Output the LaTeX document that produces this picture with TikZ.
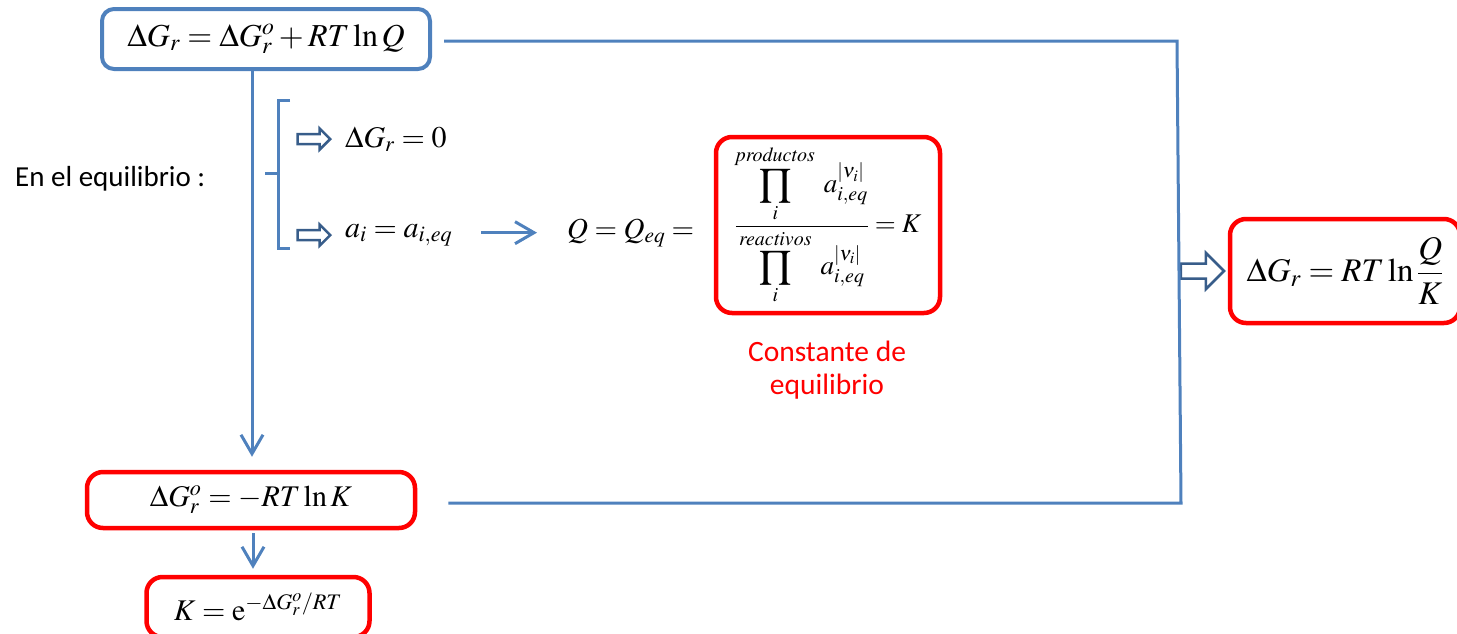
\documentclass[tikz,border=0pt]{standalone}
\usepackage{amsmath}
\usepackage{mathptmx}
\usepackage[no-math]{fontspec}
\setmainfont{Carlito}
\usetikzlibrary{arrows.meta,positioning,shapes.arrows}
\definecolor{linkblue}{RGB}{79,129,189}
\definecolor{arrowblue}{RGB}{56,93,138}
\definecolor{boxred}{RGB}{255,0,0}
\newcommand{\fsz}[1]{\fontsize{#1}{#1}\selectfont}
\begin{document}
\begin{tikzpicture}[
  x=1pt, y=-1pt,
  link/.style={draw=linkblue, line width=3pt},
  barb/.style={-{Straight Barb[length=19pt,width=22pt]}},
  bluebox/.style={draw=linkblue, line width=4pt, rounded corners=12pt},
  redbox/.style={draw=boxred, line width=4.5pt, rounded corners=16pt},
  hollow/.style={single arrow, draw=arrowblue, line width=2.5pt, fill=white,
    inner sep=3.75pt, single arrow head extend=5.5pt, minimum height=32.5pt},
  formula/.style={inner sep=0pt},
]
\useasboundingbox (0,0) rectangle (1457,633);

% ---- Boxes ----
\node[bluebox, minimum width=328pt, minimum height=60pt] (top) at (266,39)
  {\fsz{32}$\Delta G_r = \Delta G_r^o + RT\ln Q$};
\node[redbox, minimum width=328pt, minimum height=56pt] (low) at (251,500)
  {\fsz{30}$\Delta G_r^o = -RT\ln K$};
\node[redbox, minimum width=223pt, minimum height=60pt] (kexp) at (258,607)
  {\fsz{30}$K = \mathrm{e}^{-\Delta G_r^o/RT}$};
\node[redbox, minimum width=224pt, minimum height=176pt] (kfrac) at (828,225)
  {\fsz{27}$\dfrac{\displaystyle\prod_{i}^{\mathit{productos}}\; a_{i,eq}^{|\nu_i|}}
   {\displaystyle\prod_{i}^{\mathit{reactivos}}\; a_{i,eq}^{|\nu_i|}} = K$};
\node[redbox, minimum width=230pt, minimum height=104pt] (qk) at (1345,271)
  {\fsz{33}$\Delta G_r = RT\ln\dfrac{Q}{K}$};

% ---- Texts ----
\node[formula, anchor=base west] (eq) at (15,186) {\fsz{29}En el equilibrio :};
\node[formula, anchor=base west] (dg0) at (345,147) {\fsz{30}$\Delta G_r = 0$};
\node[formula, anchor=base west] (ai) at (345,237) {\fsz{30}$a_i = a_{i,eq}$};
\node[formula, anchor=base west] (qeq) at (567,238) {\fsz{29}$Q = Q_{eq} =$};
\node[formula, text=boxred, align=center, font=\fsz{29.5}] (cte) at (827,370)
  {Constante de\\[4pt]equilibrio};

% ---- Hollow arrows ----
\node[hollow, left=13pt of dg0] (h1) {};
\node[hollow, left=13pt of ai] (h2) {};
\node[hollow, inner sep=6.25pt, single arrow head extend=10.5pt,
  minimum height=43pt, anchor=tip] (h3) at ([xshift=-2pt]qk.west) {};

% ---- Bracket ----
\draw[link] (290,100) -- (278,100) -- (278,248) -- (290,248);
\draw[link] (278,173) -- (265,173);

% ---- Connectors ----
\coordinate (vx) at (252,0);
\coordinate (kx) at (253,0);
\coordinate (rt) at (1177,41);
\coordinate (rb) at (1181,503);
\draw[link, barb, shorten >=13pt] (top.south -| vx) -- (low.north -| vx);
\draw[link, barb, shorten <=3pt, shorten >=6pt] (low.south -| kx) -- (kexp.north -| kx);
\draw[link, barb, shorten <=29pt, shorten >=30pt] (ai.east |- qeq) -- (qeq.west);
\draw[link, shorten <=12pt, shorten >=31pt] (top.east |- rt) -- (rt) -- (rb) -- (low.east |- rb);
\end{tikzpicture}
\end{document}
